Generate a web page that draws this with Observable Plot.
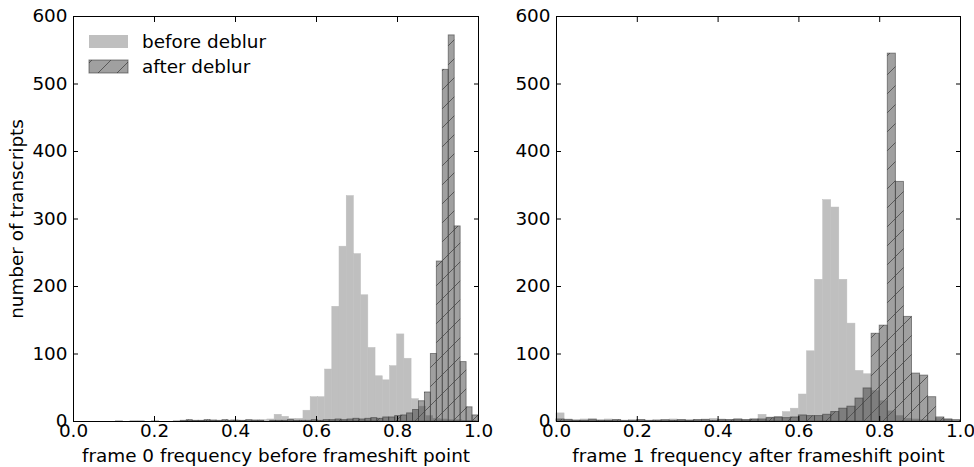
<!DOCTYPE html>
<html>
<head>
<meta charset="utf-8">
<script src="https://cdn.jsdelivr.net/npm/d3@7"></script>
<script src="https://cdn.jsdelivr.net/npm/@observablehq/plot@0.6"></script>
<style>
  html, body { margin: 0; padding: 0; background: white; }
  #wrap { position: relative; width: 974px; height: 467px; display: flex; }
  #wrap svg { overflow: visible; }
</style>
</head>
<body>
<div id="wrap"></div>
<script>
// ---- data ----
const xTicks = [0, 0.2, 0.4, 0.6, 0.8, 1.0];
const yTicks = [0, 100, 200, 300, 400, 500, 600];
const legendLabels = ["before deblur", "after deblur"];
const xLabels = ["frame 0 frequency before frameshift point", "frame 1 frequency after frameshift point"];
const yLabel = "number of transcripts";

// left panel: "before deblur" histogram (50 bins, start 0.105, width 0.0178)
const leftBeforeStart = 0.105, leftBeforeWidth = 0.0178;
const leftBefore = [1, 0, 1, 1, 0, 1, 0, 0, 1, 0, 1, 1, 1, 2, 1, 1, 2, 1, 1, 2,
  2, 3, 10, 7, 4, 4, 16, 36, 36, 77, 170, 259, 334, 248, 187, 109, 67, 61, 82, 129,
  93, 33, 22, 8, 4, 3, 2, 2, 1, 1];
// left panel: "after deblur" histogram (50 bins, start 0.265, width 0.0147)
const leftAfterStart = 0.265, leftAfterWidth = 0.0147;
const leftAfter = [1, 2, 1, 1, 2, 1, 1, 2, 1, 1, 1, 2, 1, 1, 0, 1, 1, 1, 2, 1,
  1, 1, 2, 1, 2, 2, 3, 2, 3, 4, 3, 4, 5, 4, 6, 6, 8, 9, 12, 17,
  30, 43, 100, 237, 521, 572, 289, 88, 21, 9];

// right panel: both histograms 50 bins over [0, 1], width 0.02
const rightStart = 0, rightWidth = 0.02;
const rightBefore = [12, 3, 2, 3, 4, 2, 3, 2, 1, 2, 2, 1, 2, 1, 3, 2, 2, 2, 3, 4,
  3, 2, 3, 2, 3, 10, 6, 7, 14, 19, 40, 104, 210, 328, 317, 210, 145, 75, 70, 45,
  30, 15, 8, 4, 3, 2, 1, 4, 3, 0];
const rightAfter = [3, 2, 1, 1, 2, 1, 1, 2, 1, 1, 2, 1, 1, 2, 1, 2, 1, 2, 2, 1,
  2, 2, 3, 2, 3, 3, 5, 6, 5, 6, 9, 8, 8, 10, 14, 19, 22, 34, 49, 130,
  142, 545, 355, 155, 71, 68, 36, 6, 3, 2];

// ---- styling ----
const FONT = "DejaVu Sans";
const FS = 18.4;
const lightFill = "#bfbfbf";
const darkFill = "#393939";
const darkOpacity = 0.48;

function toBins(start, width, counts) {
  return counts.map((c, i) => ({x1: start + i * width, x2: start + (i + 1) * width, c})).filter(d => d.c > 0);
}

function hatchDefs(svg, id) {
  const s = d3.select(svg);
  const defs = s.insert("defs", ":first-child");
  const p = defs.append("pattern").attr("id", id).attr("patternUnits", "userSpaceOnUse")
    .attr("width", 19).attr("height", 19);
  p.append("path").attr("d", "M-1,1 l2,-2 M0,19 l19,-19 M18,20 l2,-2")
    .attr("stroke", "#505050").attr("stroke-width", 0.9).attr("fill", "none");
}

function panel({before, after, xLabel, yLab, marginLeft, marginRight, hatchId}) {
  const svg = Plot.plot({
    width: 487,
    height: 467,
    marginTop: 16,
    marginBottom: 46,
    marginLeft,
    marginRight,
    style: {fontFamily: FONT, fontSize: `${FS}px`, background: "transparent", color: "black", overflow: "visible"},
    x: {domain: [0, 1]},
    y: {domain: [0, 600]},
    marks: [
      Plot.rect(before, {x1: "x1", x2: "x2", y1: d => 0, y2: "c", fill: lightFill, stroke: lightFill, strokeWidth: 0.5}),
      Plot.rect(after, {x1: "x1", x2: "x2", y1: d => 0, y2: "c", fill: darkFill, fillOpacity: darkOpacity}),
      Plot.rect(after, {x1: "x1", x2: "x2", y1: d => 0, y2: "c", fill: "none", stroke: darkFill, strokeOpacity: 0.6, strokeWidth: 0.9, className: "hatched"}),
      Plot.frame({stroke: "black", strokeWidth: 1}),
      Plot.axisX({ticks: xTicks, tickSize: 0, tickPadding: 2, tickFormat: d3.format(".1f"), fontSize: FS,
        label: xLabel, labelAnchor: "center", labelArrow: "none", labelOffset: 40}),
      Plot.axisX({ticks: xTicks, tickSize: -5, tickFormat: () => "", label: null}),
      Plot.axisX({anchor: "top", ticks: xTicks, tickSize: -5, tickFormat: () => "", label: null}),
      Plot.axisY({ticks: yTicks, tickSize: 0, tickPadding: 6, fontSize: FS,
        label: yLab, labelAnchor: "center", labelArrow: "none", labelOffset: 64}),
      Plot.axisY({ticks: yTicks, tickSize: -5, tickFormat: () => "", label: null}),
      Plot.axisY({anchor: "right", ticks: yTicks, tickSize: -5, tickFormat: () => "", label: null})
    ]
  });
  hatchDefs(svg, hatchId);
  d3.select(svg).selectAll("rect.hatched").attr("fill", `url(#${hatchId})`);
  d3.select(svg).selectAll("g.hatched").selectAll("rect").attr("fill", `url(#${hatchId})`);
  return svg;
}

const wrap = document.getElementById("wrap");
const left = panel({
  before: toBins(leftBeforeStart, leftBeforeWidth, leftBefore),
  after: toBins(leftAfterStart, leftAfterWidth, leftAfter),
  xLabel: xLabels[0], yLab: yLabel, marginLeft: 73, marginRight: 9, hatchId: "hatchL"
});
const right = panel({
  before: toBins(rightStart, rightWidth, rightBefore),
  after: toBins(rightStart, rightWidth, rightAfter),
  xLabel: xLabels[1], yLab: null, marginLeft: 69, marginRight: 14, hatchId: "hatchR"
});
wrap.appendChild(left);
wrap.appendChild(right);

// legend inside the left panel (upper left, no frame)
const lg = d3.select(left).append("g").attr("font-family", FONT).attr("font-size", FS).attr("text-anchor", "start");
lg.append("rect").attr("x", 89).attr("y", 35).attr("width", 39).attr("height", 13).attr("fill", lightFill);
lg.append("rect").attr("x", 89).attr("y", 60).attr("width", 39).attr("height", 13)
  .attr("fill", darkFill).attr("fill-opacity", darkOpacity);
lg.append("rect").attr("x", 89).attr("y", 60).attr("width", 39).attr("height", 13)
  .attr("fill", "url(#hatchL)").attr("stroke", darkFill).attr("stroke-opacity", 0.6);
lg.append("text").attr("x", 142).attr("y", 47.5).attr("fill", "black").text(legendLabels[0]);
lg.append("text").attr("x", 142).attr("y", 72.5).attr("fill", "black").text(legendLabels[1]);
</script>
</body>
</html>
